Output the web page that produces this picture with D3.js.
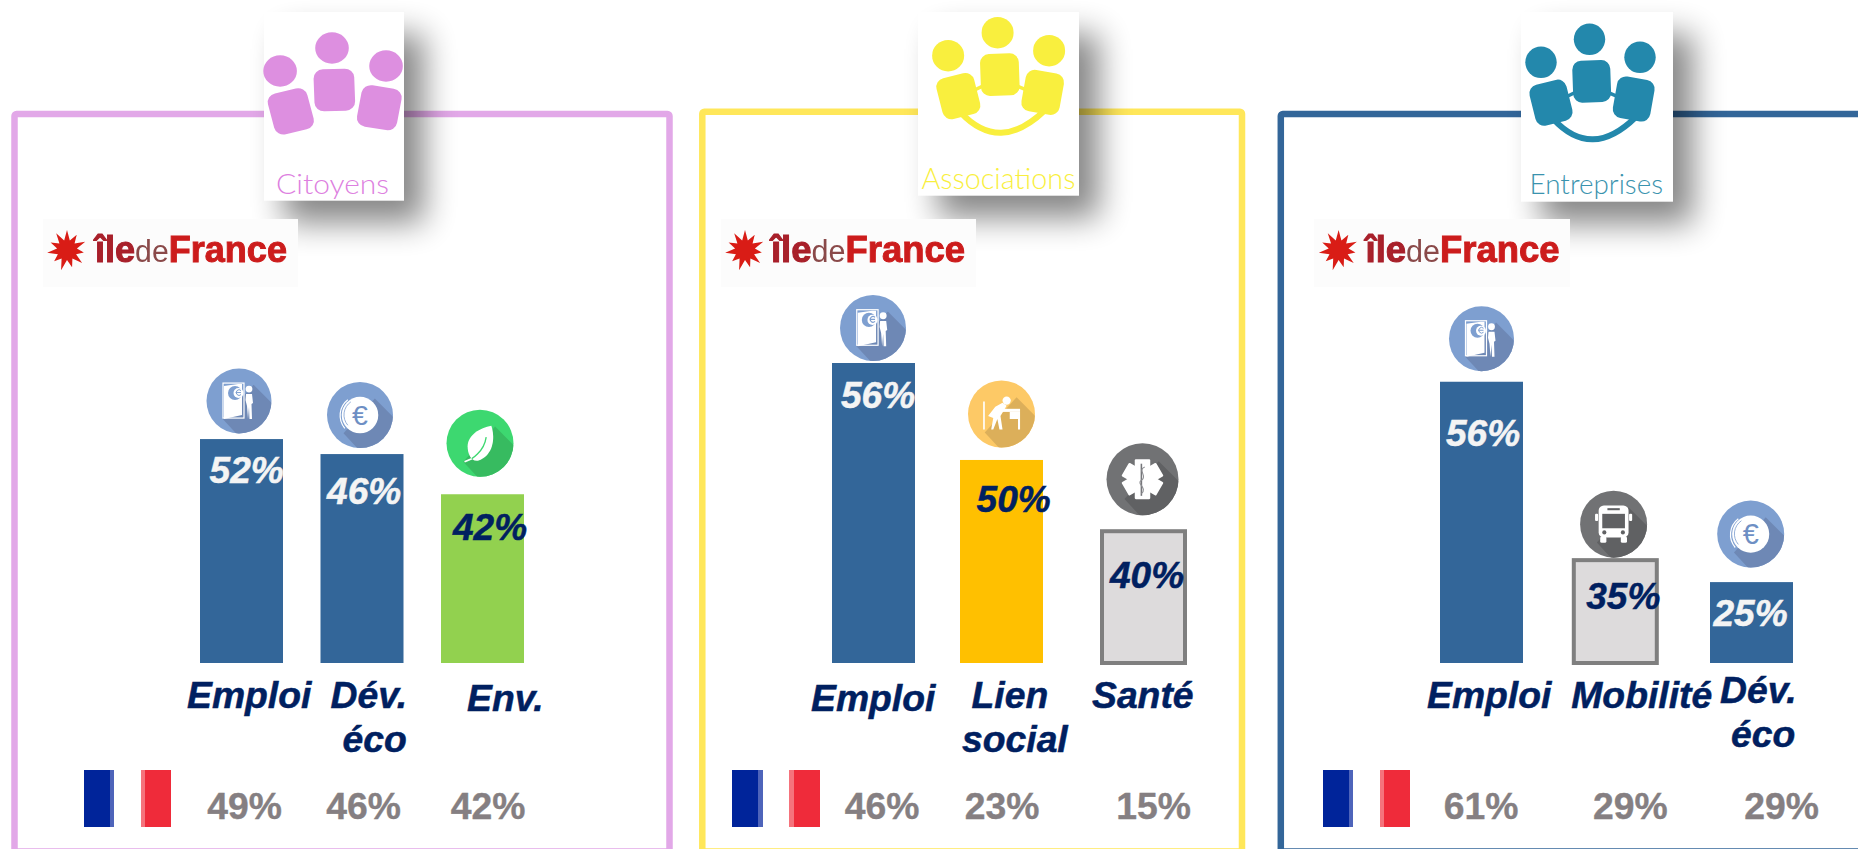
<!DOCTYPE html>
<html lang="fr">
<head>
<meta charset="utf-8">
<title>Priorités Île-de-France</title>
<script src="https://cdn.jsdelivr.net/npm/d3@7"></script>
<style>
html,body{margin:0;padding:0;background:#fff;overflow:hidden}
svg{display:block}
text{font-family:"Liberation Sans",Arial,sans-serif}
.cardText{font-family:Lato,"Open Sans",sans-serif;font-weight:300}
</style>
</head>
<body>
<svg id="chart" width="1858" height="849"></svg>
<script>
/* ---------- DATA ---------- */
const audiences = ["Citoyens", "Associations", "Entreprises"];

const citoyensCategories = ["Emploi", "Dév. éco", "Env."];
const associationsCategories = ["Emploi", "Lien social", "Santé"];
const entreprisesCategories = ["Emploi", "Mobilité", "Dév. éco"];

// Percentages printed on the bars (Île-de-France)
const citoyensValues = [52, 46, 42];
const associationsValues = [56, 50, 40];
const entreprisesValues = [56, 35, 25];

// The reference's bars are not proportional to their printed values, so the
// height each bar is actually drawn at is kept apart, on a common drawn scale.
const citoyensDrawn = [41.8, 39.0, 31.5];
const associationsDrawn = [56.0, 37.9, 24.6];
const entreprisesDrawn = [52.5, 19.2, 15.1];

// Percentages printed next to the French flag (national figures)
const citoyensFrance = [49, 46, 42];
const associationsFrance = [46, 23, 15];
const entreprisesFrance = [61, 29, 29];

/* ---------- LAYOUT ---------- */
const BLUE = "#336699", GREEN = "#92d14f", AMBER = "#ffc000", GREY = "#dddbdc";
const NAVY = "#002060", BENCH = "#857f82";
const baseY = 663, labelY = 708, benchY = 819;
const y = d3.scaleLinear().domain([0, 56]).range([baseY, 363]);

const panels = [
  { name: audiences[0], cats: citoyensCategories, vals: citoyensValues, drawn: citoyensDrawn, fr: citoyensFrance,
    frame: {x: 14.5, w: 655, top: 114, c: "#e2a8e8"},
    card: {x: 264, y: 12, w: 140, h: 188.7},
    people: {x: 332, y: 48, sx: 1.07, c: "#dd8fe0", arc: false},
    title: {x: 332.5, y: 194, size: 28, len: 113, c: "#dd80e0"},
    logo: {x: 43, w: 255, star: 67, tx: 95, tl: 192},
    bandLeft: 200, step: 120.5, nudge: [0, 0, 0],
    fills: ["blue", "blue", "green"], textC: ["#f4f4f4", "#f4f4f4", NAVY],
    valPos: [[9.6, 43.7], [6.6, 49.7], [12, 46]],
    icons: [["door", -2.5, 38, 32.5], ["euro", -2, 39, 33], ["leaf", -2.5, 51, 33.5]],
    catPos: [[[-54.5, 0]], [[-31.5, 0], [-19.5, 44]], [[-15.5, 2.7]]],
    benchDx: [3, 1.5, 5.5],
    flag: {x: 84, blue: 26, lb: 4, gap: 141, lr: 4, red: 26} },
  { name: audiences[1], cats: associationsCategories, vals: associationsValues, drawn: associationsDrawn, fr: associationsFrance,
    frame: {x: 702.3, w: 539.7, top: 111.7, c: "#ffe75a"},
    card: {x: 918, y: 12, w: 161, h: 183.7},
    people: {x: 997.6, y: 32.7, sx: 1.02, c: "#f9ef3e", arc: true},
    title: {x: 998.4, y: 189, size: 30, len: 154, c: "#f9ef3e"},
    logo: {x: 721, w: 255, star: 745, tx: 771, tl: 194},
    bandLeft: 829.7, step: 135, nudge: [2.3, -4.7, 2.3],
    fills: ["blue", "amber", "grey"], textC: ["#f4f4f4", NAVY, NAVY],
    valPos: [[9, 45], [16.6, 52], [8, 57]],
    icons: [["door", -0.5, 35, 33], ["desk", 0, 46, 33.5], ["med", -1, 52, 36]],
    catPos: [[[-62.5, 2.7]], [[-30, 0], [-39.5, 44]], [[-51.5, 0]]],
    benchDx: [8.5, 0.5, 10],
    flag: {x: 732, blue: 26, lb: 5, gap: 789, lr: 5, red: 26} },
  { name: audiences[2], cats: entreprisesCategories, vals: entreprisesValues, drawn: entreprisesDrawn, fr: entreprisesFrance,
    frame: {x: 1280.8, w: 640, top: 114, c: "#336699"},
    card: {x: 1521, y: 12, w: 152, h: 189.7},
    people: {x: 1589.5, y: 39.3, sx: 1, c: "#2388ac", arc: true},
    title: {x: 1596.3, y: 194, size: 28, len: 133.5, c: "#3a93ae"},
    logo: {x: 1314, w: 256, star: 1338.6, tx: 1365.6, tl: 194},
    bandLeft: 1440, step: 135, nudge: [0, -1.2, 0],
    fills: ["blue", "grey", "blue"], textC: ["#f4f4f4", NAVY, "#f4f4f4"],
    valPos: [[6, 64], [12.5, 49], [3.5, 44]],
    icons: [["door", 0, 43, 32.5], ["bus", -1.7, 36, 33.5], ["euro", -0.8, 48, 33.5]],
    catPos: [[[-54.5, 0]], [[-44, 0]], [[-31.5, -5.3], [-20.5, 39]]],
    benchDx: [-0.5, 15, 30],
    flag: {x: 1323, blue: 26, lb: 4, gap: 1380, lr: 4, red: 26} }
];

const fillOf = {blue: BLUE, green: GREEN, amber: AMBER, grey: GREY};
const svg = d3.select("#chart");
const defs = svg.append("defs");
defs.append("filter").attr("id", "cardShadow").attr("x", "-60%").attr("y", "-60%").attr("width", "220%").attr("height", "220%")
  .append("feGaussianBlur").attr("stdDeviation", 16);
defs.append("filter").attr("id", "soft").attr("x", "-5%").attr("y", "-5%").attr("width", "110%").attr("height", "110%")
  .append("feGaussianBlur").attr("stdDeviation", 0.55);

/* ---------- ICON GLYPHS ---------- */
const ICON = {
  door: {bg: "#7e9fd0", sh: "#6e88b5"}, euro: {bg: "#7e9fd0", sh: "#6e88b5"},
  leaf: {bg: "#3dd870", sh: "#37bb60"}, desk: {bg: "#fdc966", sh: "#dcaf5a"},
  med: {bg: "#717274", sh: "#606163"}, bus: {bg: "#717274", sh: "#606163"}
};
let clipN = 0;
function drawGlyph(g, kind, c) {
  const W = "#fff";
  if (kind === "door") {
    g.append("rect").attr("x", -16).attr("y", -18).attr("width", 21).attr("height", 35).attr("fill", "none").attr("stroke", W).attr("stroke-width", 1.2);
    g.append("path").attr("d", "M-15,-15L-1,-17L3,-17L3,14L-15,18Z").attr("fill", W);
    g.append("circle").attr("cx", -4).attr("cy", -8).attr("r", 7).attr("fill", c.bg);
    g.append("circle").attr("cx", -0.5).attr("cy", -8).attr("r", 5).attr("fill", W);
    g.append("path").attr("d", "M-3,-8.5h5M2,-6.5a2.8,2.8 0 1 1 0,-4").attr("fill", "none").attr("stroke", c.bg).attr("stroke-width", 1);
    g.append("circle").attr("cx", 10).attr("cy", -12).attr("r", 3.4).attr("fill", W);
    g.append("path").attr("d", "M7,-7L13,-7L14,2L12.5,3L13,18L10.5,18L10,6L9,18L8,5L6.5,-1Z").attr("fill", W);
  } else if (kind === "euro") {
    g.append("circle").attr("r", 18).attr("fill", W);
    g.append("path").attr("d", "M-12,-15A19.5,19.5 0 0 0 -15,13").attr("fill", "none").attr("stroke", W).attr("stroke-width", 1.2);
    g.append("path").attr("d", "M-9,-13A15.5,15.5 0 0 0 -12,10").attr("fill", "none").attr("stroke", c.bg).attr("stroke-width", 0.8);
    g.append("text").attr("text-anchor", "middle").attr("y", 10).attr("font-size", 28).attr("fill", "#6e8fc4").text("€");
  } else if (kind === "leaf") {
    g.append("path").attr("d", "M11,-17C15,-5 13,12 -2,17C-9,18 -12,10 -12,3C-12,-8 0,-15 11,-17Z").attr("fill", W);
    g.append("path").attr("d", "M-14,18C-8,16 4,8 6,-6").attr("fill", "none").attr("stroke", c.bg).attr("stroke-width", 1.3);
    g.append("path").attr("d", "M-15,18L-8,15").attr("stroke", W).attr("stroke-width", 1.6);
  } else if (kind === "desk") {
    g.append("path").attr("d", "M-17,-12V15").attr("stroke", W).attr("stroke-width", 1.6);
    g.append("circle").attr("cx", 5).attr("cy", -13).attr("r", 4).attr("fill", W);
    g.append("path").attr("d", "M-13,2L-6,-7L1,-11L5,-8L2,-3L-1,2L1,15L-2,15L-4,5L-8,15L-10,15L-8,4Z").attr("fill", W);
    g.append("path").attr("d", "M0,-5H18V-2H0Z").attr("fill", W);
    g.append("path").attr("d", "M8,-2H18V15H16V5H8Z").attr("fill", W);
  } else if (kind === "med") {
    [0, 60, 120].forEach(a => g.append("rect").attr("x", -7).attr("y", -18).attr("width", 14).attr("height", 36).attr("rx", 1)
      .attr("fill", W).attr("transform", `rotate(${a})`));
    g.append("path").attr("d", "M-1,-14V15").attr("stroke", "#75767a").attr("stroke-width", 1.4);
    g.append("path").attr("d", "M2,-11C-5,-8 5,-3 -1,1C-6,4 5,8 -1,13").attr("fill", "none").attr("stroke", "#8d8e92").attr("stroke-width", 1);
  } else if (kind === "bus") {
    g.append("rect").attr("x", -14.5).attr("y", -18).attr("width", 29).attr("height", 31).attr("rx", 5).attr("fill", W);
    g.append("rect").attr("x", -18).attr("y", -10).attr("width", 3).attr("height", 7).attr("rx", 1).attr("fill", W);
    g.append("rect").attr("x", 15).attr("y", -10).attr("width", 3).attr("height", 7).attr("rx", 1).attr("fill", W);
    g.append("rect").attr("x", -11).attr("y", -10).attr("width", 22).attr("height", 14).attr("fill", c.sh);
    g.append("rect").attr("x", -6).attr("y", -15.5).attr("width", 12).attr("height", 2).attr("fill", c.sh);
    g.append("circle").attr("cx", -9).attr("cy", 8).attr("r", 2).attr("fill", c.sh);
    g.append("circle").attr("cx", 9).attr("cy", 8).attr("r", 2).attr("fill", c.sh);
    g.append("rect").attr("x", -13).attr("y", 12).attr("width", 6).attr("height", 6).attr("rx", 1.5).attr("fill", W);
    g.append("rect").attr("x", 7).attr("y", 12).attr("width", 6).attr("height", 6).attr("rx", 1.5).attr("fill", W);
  }
}
function drawIcon(parent, kind, cx, cy, r) {
  const c = ICON[kind], id = "clip" + (++clipN);
  defs.append("clipPath").attr("id", id).append("circle").attr("r", r);
  const g = parent.append("g").attr("transform", `translate(${cx},${cy})`);
  g.append("circle").attr("r", r).attr("fill", c.bg);
  g.append("path").attr("clip-path", `url(#${id})`)
    .attr("d", `M${-.5 * r},${.55 * r}L${.1 * r},${1.2 * r}L${1.3 * r},${1.2 * r}L${1.3 * r},${.35 * r}L${.45 * r},${-.5 * r}Z`)
    .attr("fill", c.sh);
  drawGlyph(g.append("g").attr("transform", `scale(${r / 32.5})`), kind, c);
}

/* ---------- AUDIENCE PICTOGRAM ---------- */
function drawPeople(parent, p) {
  const g = parent.append("g").attr("transform", `translate(${p.x},${p.y}) scale(${p.sx},1)`).attr("fill", p.c);
  if (p.arc) {
    g.append("path").attr("d", "M-36,80Q2,121 46,78").attr("fill", "none").attr("stroke", p.c).attr("stroke-width", 6);
    g.append("path").attr("d", "M-24,58L-12,52M16,52L30,58").attr("fill", "none").attr("stroke", p.c).attr("stroke-width", 3.5);
  }
  [[-48.5, 23], [0, 0], [50.5, 18]].forEach(h =>
    g.append("circle").attr("cx", h[0]).attr("cy", h[1]).attr("r", 15.7));
  [[-38.5, 63.4, -14], [2.2, 42, -2], [44.2, 59.7, 10]].forEach(b =>
    g.append("rect").attr("x", -19).attr("y", -21).attr("width", 38).attr("height", 42).attr("rx", 9)
      .attr("transform", `translate(${b[0]},${b[1]}) rotate(${b[2]})`));
}

/* ---------- REGION LOGO ---------- */
const starRadial = d3.lineRadial().curve(d3.curveLinearClosed);
function drawLogo(parent, l) {
  parent.append("rect").attr("x", l.x).attr("y", 219).attr("width", l.w).attr("height", 68).attr("fill", "#fcfcfc");
  const g = parent.append("g").attr("filter", "url(#soft)");
  const radii = [20, 10, 18, 10, 20, 10, 17, 10, 20, 10, 18, 10, 21, 10, 17, 10, 20, 10, 18, 10, 20, 10];
  g.append("path").attr("transform", `translate(${l.star},250)`).attr("fill", "#d91c14")
    .attr("d", starRadial(radii.map((r, i) => [i * 2 * Math.PI / radii.length, r])));
  const t = g.append("text").attr("x", l.tx).attr("y", 262).attr("font-size", 37).attr("font-weight", "bold")
    .attr("textLength", l.tl).attr("lengthAdjust", "spacingAndGlyphs");
  t.append("tspan").attr("fill", "#a8202a").attr("stroke", "#a8202a").attr("stroke-width", 1).text("île");
  t.append("tspan").attr("fill", "#8a4a4a").attr("font-weight", "normal").attr("font-size", 31).text("de");
  t.append("tspan").attr("fill", "#cc1c1c").attr("stroke", "#cc1c1c").attr("stroke-width", 1).text("France");
}

/* ---------- PANELS ---------- */
panels.forEach(p => {
  const g = svg.append("g").attr("class", "panel");
  // Frame
  g.append("rect").attr("x", p.frame.x).attr("y", p.frame.top).attr("width", p.frame.w).attr("height", 851.5 - p.frame.top)
    .attr("rx", 2).attr("fill", "none").attr("stroke", p.frame.c).attr("stroke-width", 6.5);
  // Card with its soft shadow
  g.append("rect").attr("x", p.card.x + 20).attr("y", p.card.y + 22).attr("width", p.card.w).attr("height", p.card.h)
    .attr("fill", "#000").attr("opacity", 0.47).attr("filter", "url(#cardShadow)");
  g.append("rect").attr("x", p.card.x).attr("y", p.card.y).attr("width", p.card.w).attr("height", p.card.h).attr("fill", "#fff");
  drawPeople(g, p.people);
  g.append("text").attr("class", "cardText").attr("x", p.title.x).attr("y", p.title.y).attr("text-anchor", "middle")
    .attr("font-size", p.title.size).attr("fill", p.title.c)
    .attr("textLength", p.title.len).attr("lengthAdjust", "spacingAndGlyphs").text(p.name);
  drawLogo(g, p.logo);

  // Bars, positioned by a band scale on this panel's categories
  const bw = 83;
  const x = d3.scaleBand().domain(p.cats)
    .range([p.bandLeft, p.bandLeft + 2 * p.step + bw])
    .paddingInner(1 - bw / p.step).paddingOuter(0);
  const rows = p.cats.map((c, i) => ({
    cat: c, val: p.vals[i], drawn: p.drawn[i], fr: p.fr[i], i,
    left: x(c) + p.nudge[i], center: x(c) + p.nudge[i] + x.bandwidth() / 2
  }));
  g.selectAll("rect.bar").data(rows).join("rect").attr("class", "bar")
    .attr("x", d => d.left).attr("y", d => y(d.drawn))
    .attr("width", x.bandwidth()).attr("height", d => y(0) - y(d.drawn))
    .attr("fill", d => fillOf[p.fills[d.i]])
    .attr("stroke", d => p.fills[d.i] === "grey" ? "#7f7f7f" : "none")
    .attr("stroke-width", 4);
  rows.forEach(d => {
    const ic = p.icons[d.i];
    drawIcon(g, ic[0], d.center + ic[1], y(d.drawn) - ic[2], ic[3]);
  });
  // Printed value on each bar
  g.selectAll("text.val").data(rows).join("text").attr("class", "val")
    .attr("x", d => d.left + p.valPos[d.i][0]).attr("y", d => y(d.drawn) + p.valPos[d.i][1])
    .attr("font-size", 37).attr("font-weight", "bold").attr("font-style", "italic")
    .attr("fill", d => p.textC[d.i]).attr("stroke", d => p.textC[d.i]).attr("stroke-width", 0.5)
    .text(d => d.val + "%");
  // Category labels
  rows.forEach(d => d.cat.split(" ").forEach((line, k) => {
    g.append("text").attr("x", d.center + p.catPos[d.i][k][0]).attr("y", labelY + p.catPos[d.i][k][1])
      .attr("font-size", 37.3).attr("font-weight", "bold").attr("font-style", "italic")
      .attr("fill", NAVY).attr("stroke", NAVY).attr("stroke-width", 0.5).text(line);
  }));
  // French flag
  const f = p.flag;
  const flagParts = [[f.x, f.blue, "#00249a"], [f.x + f.blue, f.lb, "#4e64ba"], [f.gap, f.lr, "#f5737c"], [f.gap + f.lr, f.red, "#ef2b3a"]];
  g.selectAll("rect.flag").data(flagParts).join("rect").attr("class", "flag")
    .attr("x", d => d[0]).attr("y", 770).attr("width", d => d[1]).attr("height", 57).attr("fill", d => d[2]);
  // National figures
  g.selectAll("text.bench").data(rows).join("text").attr("class", "bench")
    .attr("x", d => d.center + p.benchDx[d.i]).attr("y", benchY).attr("text-anchor", "middle")
    .attr("font-size", 37.3).attr("font-weight", "bold").attr("fill", BENCH)
    .attr("stroke", BENCH).attr("stroke-width", 0.4).text(d => d.fr + "%");
});
</script>
</body>
</html>
